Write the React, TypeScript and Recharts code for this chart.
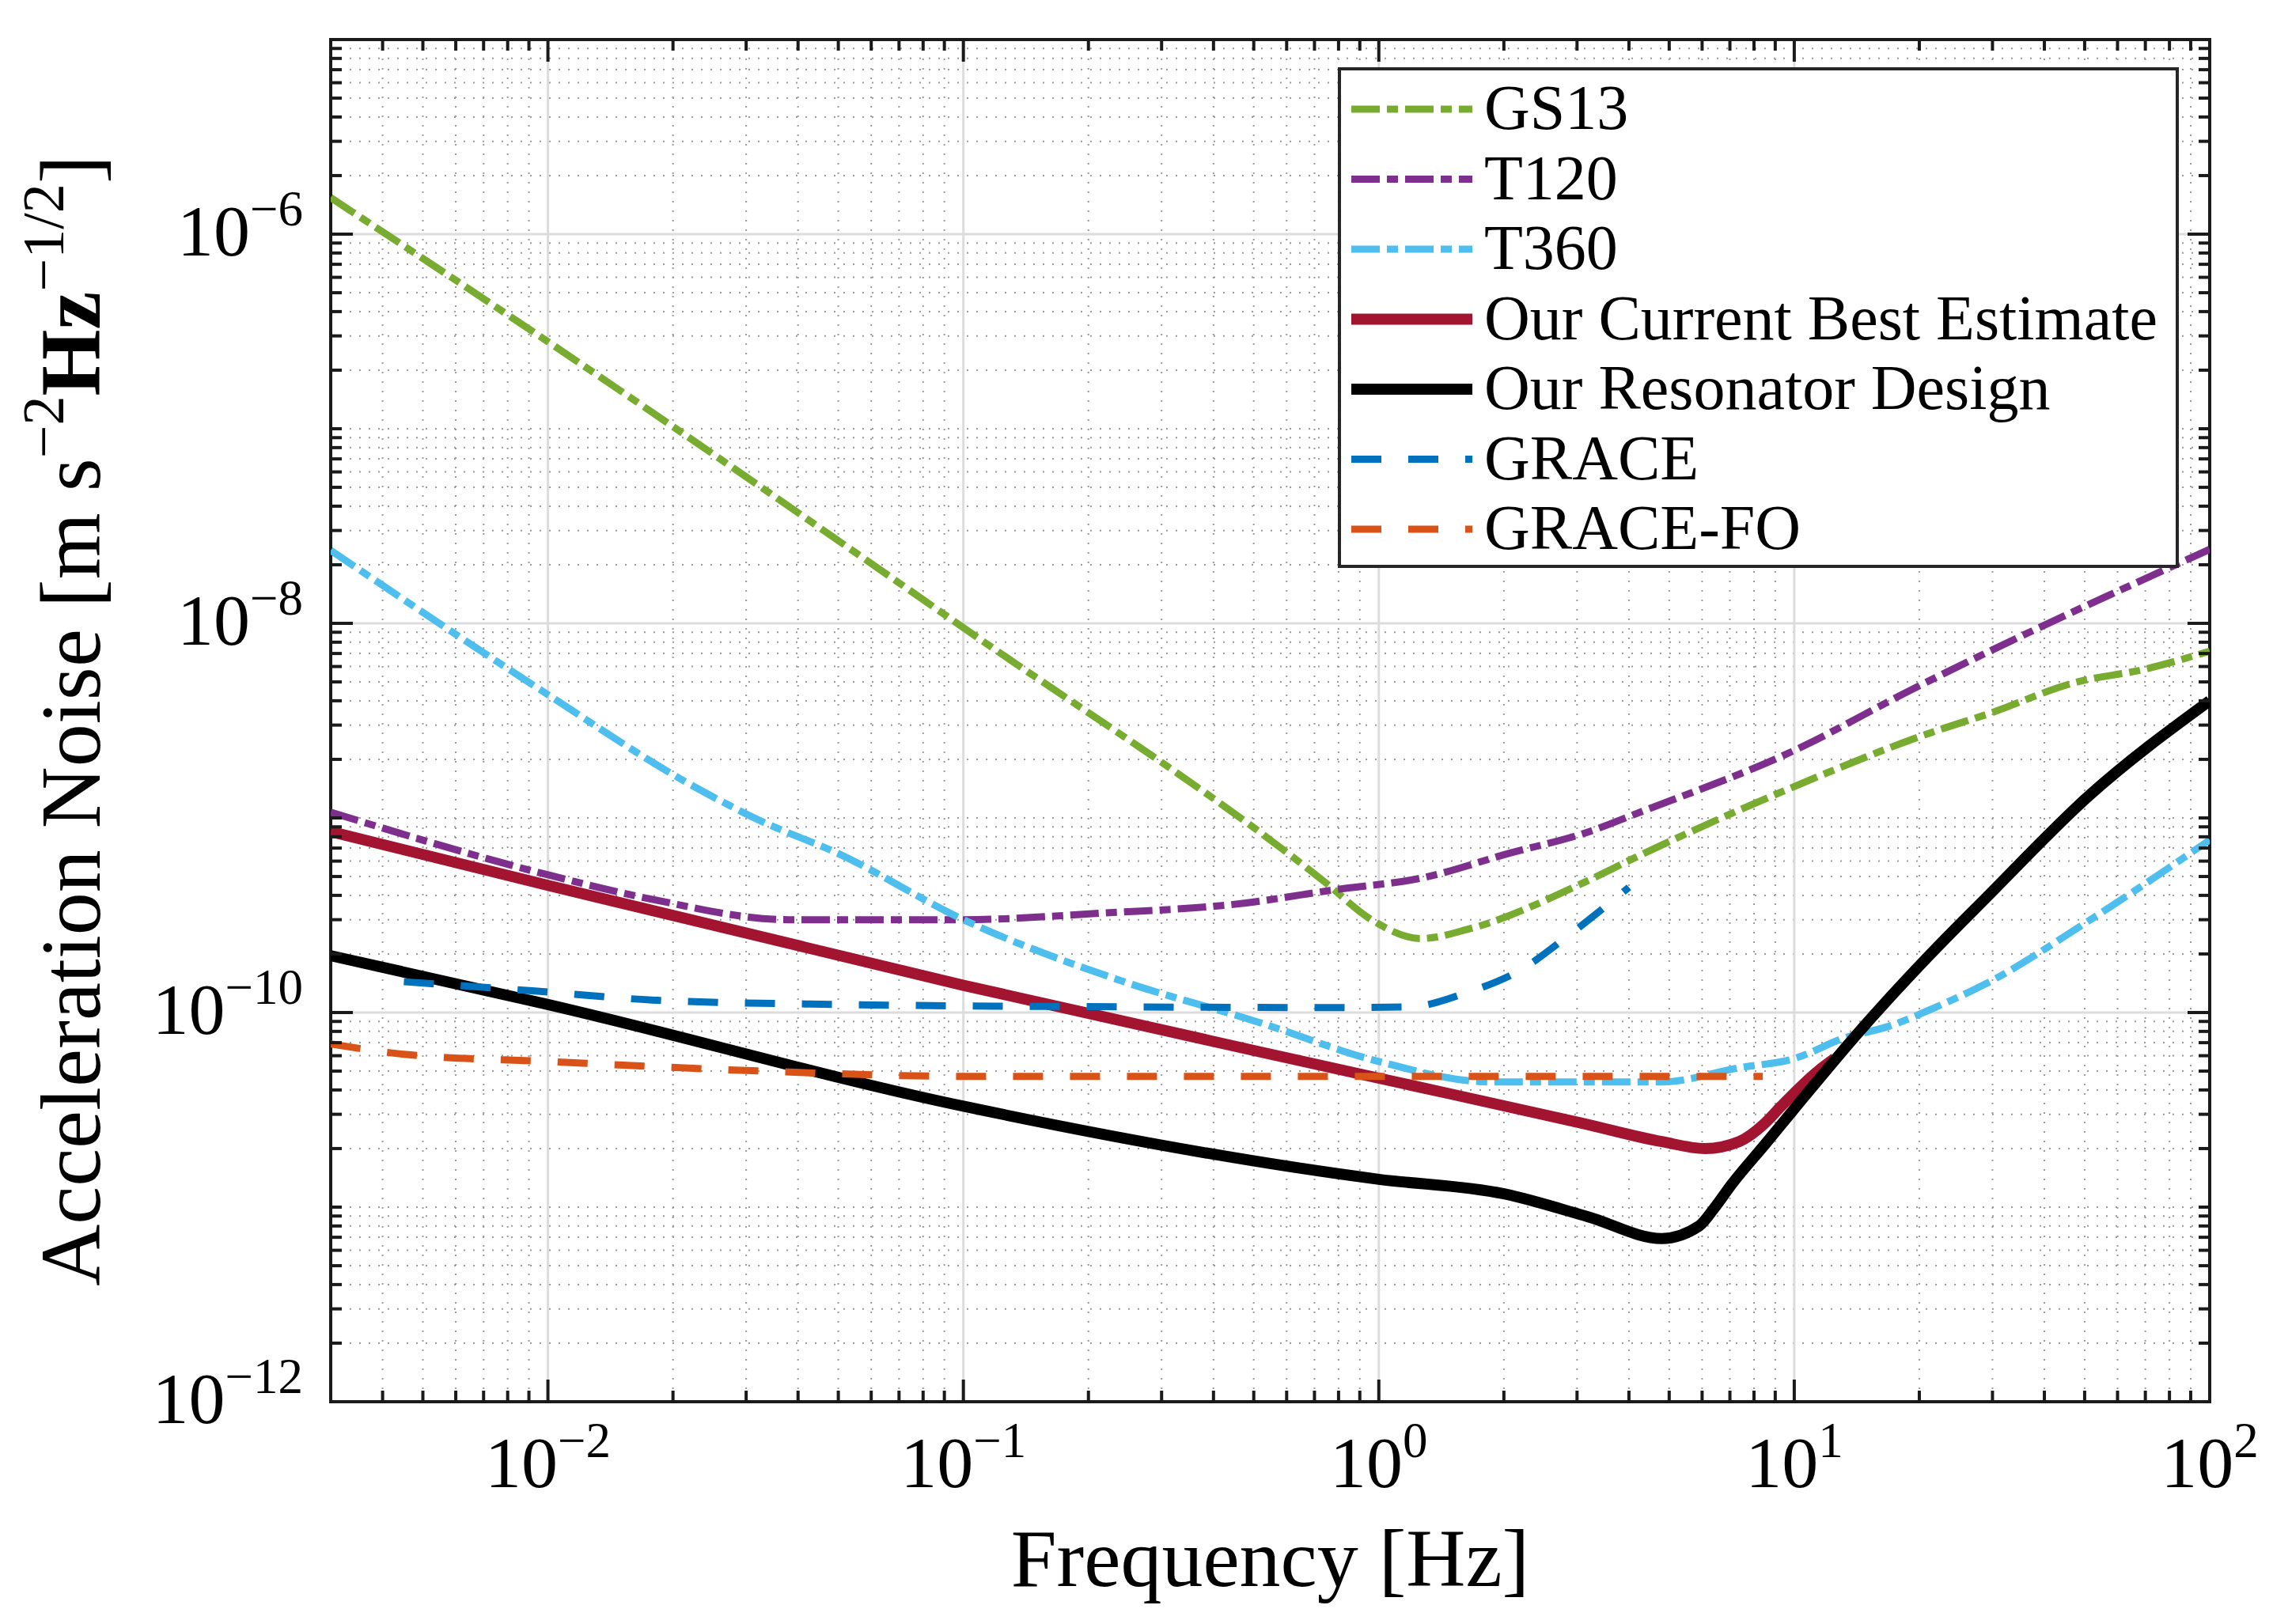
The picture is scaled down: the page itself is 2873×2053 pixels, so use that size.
import React from "react";
import {
  CartesianGrid,
  Line,
  LineChart,
  ReferenceArea,
  XAxis,
  YAxis,
} from "recharts";

// chart frame (px)
const W = 2873;
const H = 2053;
const MARGIN = { top: 50, right: 80, bottom: 0, left: 0 };
const Y_AXIS_W = 418;
const X_AXIS_H = 281;
const PLOT_W = W - MARGIN.left - MARGIN.right - Y_AXIS_W;
const PLOT_H = H - MARGIN.top - MARGIN.bottom - X_AXIS_H;
const FONT = "'Liberation Serif', 'Times New Roman', serif";

// axes
const X_DOMAIN = [0.003, 100];
const Y_DOMAIN = [1e-12, 1e-5];
const X_DECADES = [0.001, 0.01, 0.1, 1, 10];
const Y_DECADES = [1e-12, 1e-11, 1e-10, 1e-9, 1e-8, 1e-7, 1e-6];
const MINOR_STEPS = [2, 3, 4, 5, 6, 7, 8, 9];
const X_MAJOR = [0.01, 0.1, 1, 10, 100];
const Y_MAJOR = [1e-12, 1e-10, 1e-8, 1e-6];
const Y_LABELLED = [1e-12, 1e-10, 1e-8, 1e-6];

// GS13
const GS13_F = [0.003, 0.01, 0.1, 0.74, 0.96, 1.26, 1.66, 3.08, 4.17, 10, 21.6, 29, 48, 69.5, 100];
const GS13_V = [1.54e-6, 2.8e-7, 9.5e-9, 4.7e-10, 3.0e-10, 2.4e-10, 2.7e-10, 4.6e-10, 6.3e-10, 1.45e-9, 2.77e-9, 3.4e-9, 5.0e-9, 5.8e-9, 7.2e-9];
// T120
const T120_F = [0.003, 0.01, 0.018, 0.038, 0.1, 0.22, 0.45, 0.8, 1.26, 2.07, 3.1, 4.4, 9.9, 19.3, 100];
const T120_V = [1.07e-9, 5.1e-10, 3.8e-10, 3.0e-10, 3.0e-10, 3.25e-10, 3.6e-10, 4.3e-10, 4.9e-10, 6.6e-10, 8.3e-10, 1.1e-9, 2.2e-9, 4.6e-9, 2.4e-8];
// T360
const T360_F = [0.003, 0.01, 0.0216, 0.0327, 0.0497, 0.1, 0.23, 0.515, 1.0, 1.86, 4.8, 7.36, 10, 13.2, 16.9, 22, 29, 51, 100];
const T360_V = [2.37e-8, 4.3e-9, 1.52e-9, 9.6e-10, 6.6e-10, 3.0e-10, 1.5e-10, 8.9e-11, 5.6e-11, 4.4e-11, 4.4e-11, 5.2e-11, 5.8e-11, 7.4e-11, 8.5e-11, 1.07e-10, 1.41e-10, 2.95e-10, 7.7e-10];
// Our Current Best Estimate
const BEST_F = [0.003, 0.01, 0.1, 1, 3.08, 4.8, 6.1, 7.36, 8.5, 9.3, 11.4, 12.5];
const BEST_V = [8.5e-10, 4.5e-10, 1.38e-10, 4.6e-11, 2.7e-11, 2.17e-11, 2.0e-11, 2.17e-11, 2.7e-11, 3.3e-11, 5.0e-11, 5.8e-11];
// Our Resonator Design
const RES_F = [0.003, 0.01, 0.1, 1, 2, 3.2, 4.8, 5.9, 6.4, 7.05, 8.5, 10, 14.2, 21.3, 29, 51, 100];
const RES_V = [1.96e-10, 1.1e-10, 3.3e-11, 1.39e-11, 1.17e-11, 8.9e-12, 6.9e-12, 8.0e-12, 9.8e-12, 1.3e-11, 2.1e-11, 3.2e-11, 7.8e-11, 2.0e-10, 3.9e-10, 1.29e-9, 4.0e-9];
// GRACE
const GRACE_F = [0.0045, 0.0093, 0.0178, 0.05, 0.24, 0.8, 1.19, 1.62, 2.2, 2.87, 4.0];
const GRACE_V = [1.44e-10, 1.29e-10, 1.16e-10, 1.1e-10, 1.07e-10, 1.06e-10, 1.07e-10, 1.26e-10, 1.66e-10, 2.5e-10, 4.4e-10];
// GRACE-FO
const FO_F = [0.003, 0.0045, 0.01, 0.033, 0.1, 1, 8.4];
const FO_V = [6.9e-11, 6.1e-11, 5.6e-11, 5.0e-11, 4.7e-11, 4.7e-11, 4.7e-11];

const DASH_DOT = "36 9 14 9";
const DASHED = "38 34";

const pairs = (f: number[], v: number[]) => f.map((x, i) => ({ f: x, v: v[i] }));

const SERIES = [
  { name: "GS13", color: "#77AC30", width: 9, dash: DASH_DOT, data: pairs(GS13_F, GS13_V) },
  { name: "T120", color: "#7E2F8E", width: 9, dash: DASH_DOT, data: pairs(T120_F, T120_V) },
  { name: "T360", color: "#4DBEEE", width: 9, dash: DASH_DOT, data: pairs(T360_F, T360_V) },
  { name: "Our Current Best Estimate", color: "#A2142F", width: 14, dash: undefined, data: pairs(BEST_F, BEST_V) },
  { name: "Our Resonator Design", color: "#000000", width: 14, dash: undefined, data: pairs(RES_F, RES_V) },
  { name: "GRACE", color: "#0072BD", width: 9, dash: DASHED, data: pairs(GRACE_F, GRACE_V) },
  { name: "GRACE-FO", color: "#D95319", width: 9, dash: DASHED, data: pairs(FO_F, FO_V) },
];

// minor positions inside the domain
const minorOf = (decades: number[], lo: number, hi: number) =>
  decades
    .flatMap((d) => MINOR_STEPS.map((m) => +(m * d).toPrecision(3)))
    .filter((v) => v >= lo * 0.999 && v <= hi * 1.001);
const X_MINOR = minorOf(X_DECADES, X_DOMAIN[0], X_DOMAIN[1]);
const Y_MINOR = [...minorOf(Y_DECADES, Y_DOMAIN[0], Y_DOMAIN[1]), 1e-11, 1e-9, 1e-7];

const isOn = (list: number[], v: number) =>
  list.some((t) => Math.abs(Math.log10(t) - Math.log10(v)) < 1e-6);

const expText = (v: number) => {
  const e = Math.round(Math.log10(v));
  return e < 0 ? `\u2212${-e}` : `${e}`;
};

const XTick = (props: any) => {
  const { x, y, payload } = props;
  const major = isOn(X_MAJOR, payload.value);
  const len = major ? 28 : 14;
  return (
    <g>
      <line x1={x} x2={x} y1={y} y2={y - len} stroke="#1a1a1a" strokeWidth={4} />
      <line x1={x} x2={x} y1={y - PLOT_H} y2={y - PLOT_H + len} stroke="#1a1a1a" strokeWidth={4} />
      {major && (
        <text x={x} y={y + 108} textAnchor="middle" fontFamily={FONT} fontSize={92} fill="#000">
          10
          <tspan dy={-38} fontSize={63}>
            {expText(payload.value)}
          </tspan>
        </text>
      )}
    </g>
  );
};

const YTick = (props: any) => {
  const { x, y, payload } = props;
  const major = isOn(Y_MAJOR, payload.value);
  const len = major ? 28 : 14;
  return (
    <g>
      <line x1={x} x2={x + len} y1={y} y2={y} stroke="#1a1a1a" strokeWidth={4} />
      <line x1={x + PLOT_W} x2={x + PLOT_W - len} y1={y} y2={y} stroke="#1a1a1a" strokeWidth={4} />
      {isOn(Y_LABELLED, payload.value) && (
        <text x={x - 35} y={y + 27} textAnchor="end" fontFamily={FONT} fontSize={92} fill="#000">
          10
          <tspan dy={-38} fontSize={63}>
            {expText(payload.value)}
          </tspan>
        </text>
      )}
    </g>
  );
};

const XTitle = (props: any) => {
  const { x, y, width } = props.viewBox;
  return (
    <text x={x + width / 2} y={y + 233} textAnchor="middle" fontFamily={FONT} fontSize={104} fill="#000">
      Frequency [Hz]
    </text>
  );
};

const YTitle = (props: any) => {
  const { y, height } = props.viewBox;
  return (
    <text
      transform={`translate(126, ${y + height / 2}) rotate(-90)`}
      textAnchor="middle"
      fontFamily={FONT}
      fontSize={108}
      fill="#000"
    >
      Acceleration Noise [m s
      <tspan dy={-46} fontSize={74}>{"\u22122"}</tspan>
      <tspan dy={46} fontWeight="bold">Hz</tspan>
      <tspan dy={-46} fontSize={74}>{"\u22121/2"}</tspan>
      <tspan dy={46}>]</tspan>
    </text>
  );
};

// legend box
const LEG = { x: 1693, y: 87, w: 1059, h: 629, row0: 138, step: 88.5, lx0: 1708, lx1: 1861, tx: 1876 };

const LegendBox = () => (
  <svg
    width={W}
    height={H}
    style={{ position: "absolute", left: 0, top: 0, pointerEvents: "none" }}
  >
    <rect x={LEG.x} y={LEG.y} width={LEG.w} height={LEG.h} fill="#fff" stroke="#262626" strokeWidth={4} />
    {SERIES.map((s, i) => {
      const cy = LEG.row0 + i * LEG.step;
      return (
        <g key={s.name}>
          <line x1={LEG.lx0} x2={LEG.lx1} y1={cy} y2={cy} stroke={s.color} strokeWidth={s.width} strokeDasharray={s.dash} />
          <text x={LEG.tx} y={cy + 25} fontFamily={FONT} fontSize={80} fill="#000">
            {s.name}
          </text>
        </g>
      );
    })}
  </svg>
);

export default function App() {
  return (
    <div style={{ position: "absolute", left: 0, top: 0, width: W, height: H, background: "#fff" }}>
      <LineChart width={W} height={H} margin={MARGIN}>
        <CartesianGrid
          horizontalValues={Y_MINOR}
          verticalValues={X_MINOR}
          stroke="#9a9a9a"
          strokeWidth={2}
          strokeDasharray="2 10"
        />
        <CartesianGrid
          horizontalValues={Y_MAJOR}
          verticalValues={X_MAJOR}
          stroke="#dcdcdc"
          strokeWidth={3}
        />
        <XAxis
          dataKey="f"
          type="number"
          scale="log"
          domain={X_DOMAIN}
          allowDataOverflow
          ticks={[...X_MINOR, ...X_MAJOR].sort((a, b) => a - b)}
          interval={0}
          height={X_AXIS_H}
          tickSize={0}
          tickMargin={0}
          tickLine={false}
          axisLine={false}
          tick={<XTick />}
          label={{ content: XTitle }}
        />
        <YAxis
          dataKey="v"
          type="number"
          scale="log"
          domain={Y_DOMAIN}
          allowDataOverflow
          ticks={[...Y_MINOR, ...Y_MAJOR].sort((a, b) => a - b)}
          interval={0}
          width={Y_AXIS_W}
          tickSize={0}
          tickMargin={0}
          tickLine={false}
          axisLine={false}
          tick={<YTick />}
          label={{ content: YTitle }}
        />
        {SERIES.map((s) => (
          <Line
            key={s.name}
            name={s.name}
            data={s.data}
            dataKey="v"
            type="monotone"
            stroke={s.color}
            strokeWidth={s.width}
            strokeDasharray={s.dash}
            dot={false}
            activeDot={false}
            isAnimationActive={false}
          />
        ))}
        <ReferenceArea
          x1={X_DOMAIN[0]}
          x2={X_DOMAIN[1]}
          y1={Y_DOMAIN[0]}
          y2={Y_DOMAIN[1]}
          fill="none"
          stroke="#1a1a1a"
          strokeWidth={4}
          ifOverflow="extendDomain"
        />
      </LineChart>
      <LegendBox />
    </div>
  );
}
